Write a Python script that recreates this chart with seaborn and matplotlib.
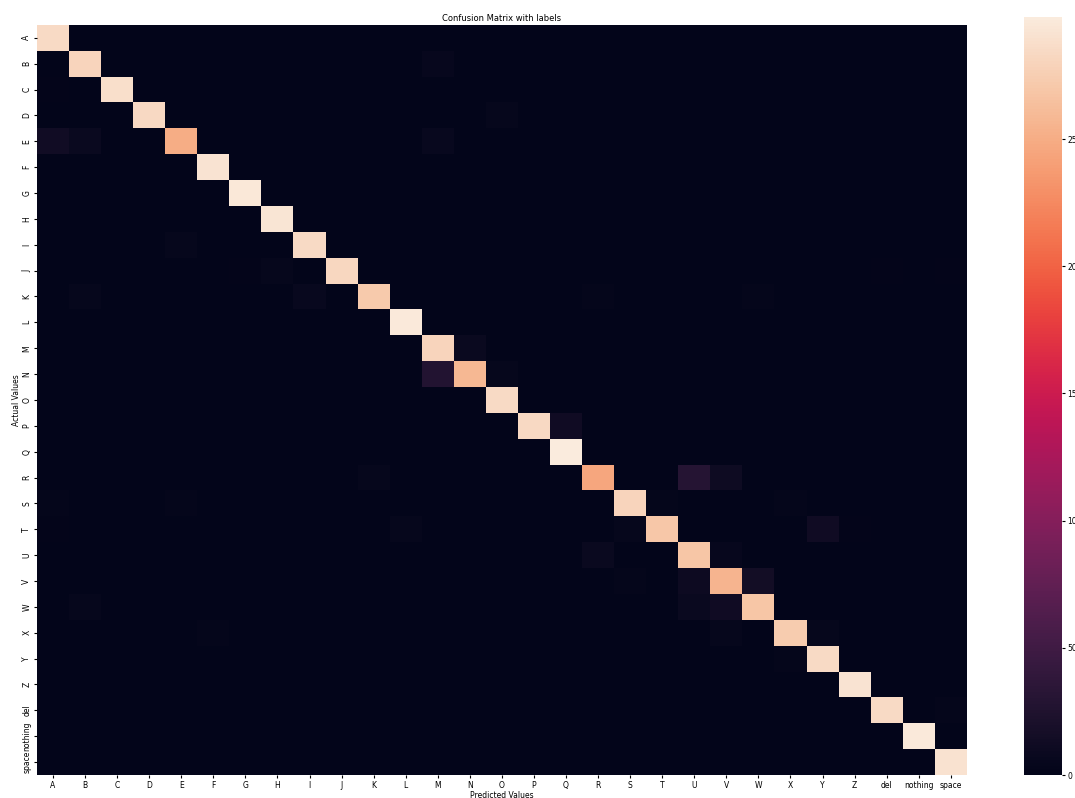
import numpy as np
import pandas as pd
import matplotlib
matplotlib.use("Agg")
import matplotlib.pyplot as plt
import seaborn as sns

# class labels
labels = list("ABCDEFGHIJKLMNOPQRSTUVWXYZ") + ["del", "nothing", "space"]

# correct predictions per class (diagonal)
diag = [285, 280, 288, 283, 250, 292, 295, 293, 285, 282, 272, 296, 280, 258, 285,
        283, 298, 245, 280, 270, 268, 255, 268, 273, 285, 292, 285, 296, 290]

# misclassifications: (actual, predicted, count)
errors = [
    ("B", "M", 5), ("C", "A", 2), ("D", "O", 4),
    ("E", "A", 13), ("E", "B", 7), ("E", "M", 6),
    ("I", "E", 4),
    ("J", "G", 2), ("J", "H", 4), ("J", "del", 2), ("J", "space", 2),
    ("K", "B", 4), ("K", "I", 6), ("K", "R", 3), ("K", "W", 3),
    ("M", "N", 7),
    ("N", "M", 27), ("N", "O", 4),
    ("P", "Q", 12),
    ("R", "K", 4), ("R", "U", 30), ("R", "V", 11),
    ("S", "A", 3), ("S", "E", 3), ("S", "T", 3), ("S", "X", 3),
    ("T", "A", 2), ("T", "L", 4), ("T", "S", 4), ("T", "Y", 12), ("T", "Z", 2),
    ("U", "R", 8), ("U", "V", 5),
    ("V", "S", 3), ("V", "U", 10), ("V", "W", 15),
    ("W", "B", 4), ("W", "U", 8), ("W", "V", 12),
    ("X", "F", 3), ("X", "V", 4), ("X", "Y", 4),
    ("Y", "X", 3),
    ("del", "space", 3),
]

cm = pd.DataFrame(0, index=labels, columns=labels)
for i, lab in enumerate(labels):
    cm.loc[lab, lab] = diag[i]
for actual, pred, n in errors:
    cm.loc[actual, pred] = n

plt.rcParams["font.size"] = 5.5

fig = plt.figure(figsize=(10.75, 7.98), dpi=100)
ax = fig.add_axes([0.0344, 0.0288, 0.865, 0.94])
cax = fig.add_axes([0.9526, 0.0288, 0.0353, 0.95])

sns.heatmap(cm, ax=ax, cbar_ax=cax)
ax.set_title("Confusion Matrix with labels", fontsize=6, pad=3)
ax.set_xlabel("Predicted Values", fontsize=5.5, labelpad=1)
ax.set_ylabel("Actual Values", fontsize=5.5, labelpad=1)
ax.tick_params(labelsize=5.5, length=2, pad=2)
plt.setp(ax.get_yticklabels(), rotation=90, va="center")
cax.tick_params(labelsize=5.5, length=2, pad=2)
cax.set_frame_on(False)

plt.savefig("out.png", dpi=100)
